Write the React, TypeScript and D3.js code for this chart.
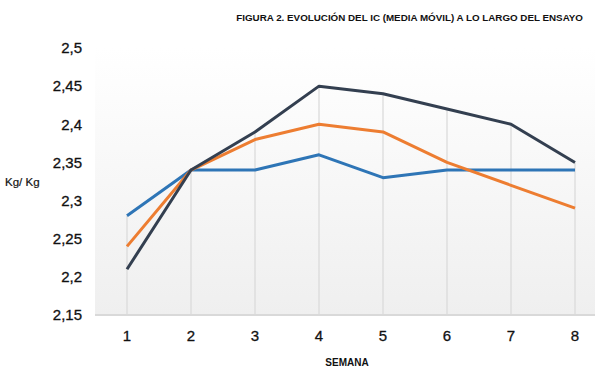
import React from 'react';
import * as d3 from 'd3';

const weeks = ['1', '2', '3', '4', '5', '6', '7', '8'];
const blueSeries = [2.28, 2.34, 2.34, 2.36, 2.33, 2.34, 2.34, 2.34];
const orangeSeries = [2.24, 2.34, 2.38, 2.4, 2.39, 2.35, 2.32, 2.29];
const darkSeries = [2.21, 2.34, 2.39, 2.45, 2.44, 2.42, 2.4, 2.35];
const yTicks = [2.15, 2.2, 2.25, 2.3, 2.35, 2.4, 2.45, 2.5];

const series = [
  { key: 'blue', values: blueSeries, color: '#2e75b6' },
  { key: 'orange', values: orangeSeries, color: '#ed7d31' },
  { key: 'dark', values: darkSeries, color: '#333f50' }
];

const App = () => {
  const size = { width: 600, height: 372 };
  const plot = { left: 95, right: 595, top: 48, bottom: 315 };

  const xScale = d3
    .scalePoint<string>()
    .domain(weeks)
    .range([127, 575]);

  const yScale = d3
    .scaleLinear()
    .domain([2.15, 2.5])
    .range([plot.bottom, plot.top]);

  const line = d3
    .line<number>()
    .x((d, i) => xScale(weeks[i])!)
    .y(d => yScale(d));

  const fmt = (v: number) => String(+v.toFixed(2)).replace('.', ',');

  // drop lines from the highest point of each week down to the axis
  const dropLines = weeks.map((w, i) => {
    const top = d3.max(series.map(s => s.values[i]))!;
    return (
      <line
        key={w}
        x1={xScale(w)}
        x2={xScale(w)}
        y1={yScale(top)}
        y2={plot.bottom}
        stroke="#d9d9d9"
        strokeWidth={1.2}
      />
    );
  });

  return (
    <svg
      width={size.width}
      height={size.height}
      style={{ position: 'absolute', left: 0, top: 0, fontFamily: 'Liberation Sans, Arial, sans-serif' }}
    >
      <defs>
        <linearGradient id="bg" x1="0" y1="0" x2="0" y2="1">
          <stop offset="0" stopColor="#ffffff" />
          <stop offset="1" stopColor="#efefef" />
        </linearGradient>
      </defs>
      <rect width={size.width} height={size.height} fill="#fff" />
      <rect
        x={plot.left}
        y={plot.top}
        width={plot.right - plot.left}
        height={plot.bottom - plot.top}
        fill="url(#bg)"
      />

      <text x={583} y={21} textAnchor="end" fontSize={9.8} fontWeight="bold" fill="#111">
        FIGURA 2. EVOLUCIÓN DEL IC (MEDIA MÓVIL) A LO LARGO DEL ENSAYO
      </text>

      <g className="drops">{dropLines}</g>
      <line x1={plot.left} x2={plot.right} y1={plot.bottom} y2={plot.bottom} stroke="#d9d9d9" strokeWidth={2} />

      <g className="y-axis">
        {yTicks.map(t => (
          <text key={t} x={82} y={yScale(t)} dy="0.35em" textAnchor="end" fontSize={15} fill="#111" stroke="#111" strokeWidth={0.3}>
            {fmt(t)}
          </text>
        ))}
      </g>

      <g className="x-axis">
        {weeks.map(w => (
          <text key={w} x={xScale(w)} y={336} dy="0.35em" textAnchor="middle" fontSize={15} fill="#111" stroke="#111" strokeWidth={0.3}>
            {w}
          </text>
        ))}
      </g>

      <text x={5} y={182} dy="0.35em" fontSize={11.5} fill="#111" stroke="#111" strokeWidth={0.2}>
        Kg/ Kg
      </text>
      <text x={347} y={362} dy="0.35em" textAnchor="middle" fontSize={10} fontWeight="bold" fill="#111">
        SEMANA
      </text>

      <g className="lines">
        {series.map(s => (
          <path key={s.key} d={line(s.values)!} fill="none" stroke={s.color} strokeWidth={3} strokeLinejoin="round" />
        ))}
      </g>
    </svg>
  );
};

export default App;
